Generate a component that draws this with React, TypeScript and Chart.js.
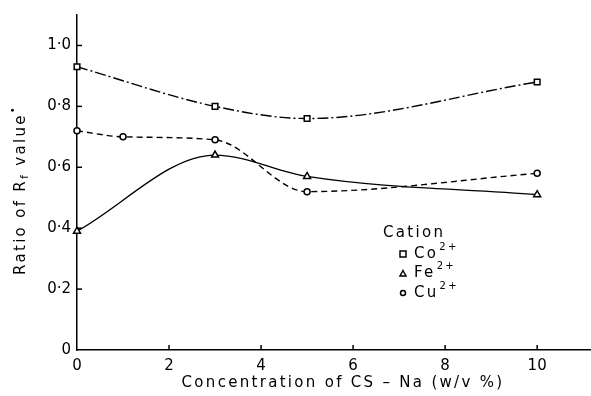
import React, { useEffect, useRef } from "react";
import { Chart, registerables } from "chart.js";

Chart.register(...registerables);

const coX = [0, 3, 5, 10];
const coY = [0.93, 0.8, 0.76, 0.88];
const feX = [0, 3, 5, 10];
const feY = [0.39, 0.64, 0.57, 0.51];
const cuX = [0, 1, 3, 5, 10];
const cuY = [0.72, 0.7, 0.69, 0.52, 0.58];

const xTicks = [0, 2, 4, 6, 8, 10];
const yTicks = [0, 0.2, 0.4, 0.6, 0.8, 1.0];

const xTitle = "Concentration of CS – Na (w/v %)";
const legendTitle = "Cation";
const legendItems = [
  { label: "Co", sup: "2+", shape: "rect" },
  { label: "Fe", sup: "2+", shape: "triangle" },
  { label: "Cu", sup: "2+", shape: "circle" },
];

const FONT = "'DejaVu Sans', sans-serif";

function pts(xs: number[], ys: number[]) {
  return xs.map((x, i) => ({ x, y: ys[i] }));
}

function drawMarker(ctx: CanvasRenderingContext2D, shape: string, x: number, y: number, r: number) {
  ctx.save();
  ctx.fillStyle = "#fff";
  ctx.strokeStyle = "#000";
  ctx.lineWidth = 1.5;
  ctx.beginPath();
  if (shape === "rect") {
    ctx.rect(x - r, y - r, 2 * r, 2 * r);
  } else if (shape === "triangle") {
    ctx.moveTo(x, y - r);
    ctx.lineTo(x + r, y + r * 0.8);
    ctx.lineTo(x - r, y + r * 0.8);
    ctx.closePath();
  } else {
    ctx.arc(x, y, r, 0, Math.PI * 2);
  }
  ctx.fill();
  ctx.stroke();
  ctx.restore();
}

const decorPlugin = {
  id: "decor",
  afterDraw(chart: any) {
    const ctx: CanvasRenderingContext2D = chart.ctx;
    const xs = chart.scales.x;
    const ys = chart.scales.y;
    const area = chart.chartArea;
    ctx.save();
    ctx.strokeStyle = "#000";
    ctx.lineWidth = 1.5;
    xTicks.forEach((t) => {
      if (t === 0) return;
      const px = xs.getPixelForValue(t);
      ctx.beginPath();
      ctx.moveTo(px, area.bottom);
      ctx.lineTo(px, area.bottom - 5);
      ctx.stroke();
    });
    yTicks.forEach((t) => {
      if (t === 0) return;
      const py = ys.getPixelForValue(t);
      ctx.beginPath();
      ctx.moveTo(area.left, py);
      ctx.lineTo(area.left + 5, py);
      ctx.stroke();
    });

    ctx.fillStyle = "#000";
    (ctx as any).letterSpacing = "2.3px";
    ctx.font = `15px ${FONT}`;
    ctx.textAlign = "center";
    ctx.textBaseline = "middle";
    ctx.fillText(xTitle, 343, 383);

    ctx.save();
    ctx.translate(21, 190);
    ctx.rotate(-Math.PI / 2);
    const parts = [
      { t: "Ratio of R", size: 15, dy: 0 },
      { t: "f", size: 11, dy: 4 },
      { t: " value", size: 15, dy: 0 },
      { t: "•", size: 10, dy: -8 },
    ];
    let total = 0;
    parts.forEach((p) => {
      ctx.font = `${p.size}px ${FONT}`;
      total += ctx.measureText(p.t).width;
    });
    let cx = -total / 2;
    ctx.textAlign = "left";
    parts.forEach((p) => {
      ctx.font = `${p.size}px ${FONT}`;
      ctx.fillText(p.t, cx, p.dy);
      cx += ctx.measureText(p.t).width;
    });
    ctx.restore();

    ctx.textAlign = "left";
    ctx.font = `15px ${FONT}`;
    ctx.fillText(legendTitle, 383, 233);
    legendItems.forEach((it, i) => {
      const y = 254 + i * 19.5;
      drawMarker(ctx, it.shape, 403, y, it.shape === "circle" ? 2.5 : 3);
      ctx.font = `15px ${FONT}`;
      ctx.fillText(it.label, 414, y);
      const w = ctx.measureText(it.label).width;
      ctx.font = `10px ${FONT}`;
      ctx.fillText(it.sup, 414 + w + 1, y - 7);
    });
    ctx.restore();
  },
};

export default function App() {
  const ref = useRef<HTMLCanvasElement>(null);
  useEffect(() => {
    if (!ref.current) return;
    const common = {
      borderColor: "#000",
      borderWidth: 1.4,
      pointBackgroundColor: "#fff",
      pointBorderColor: "#000",
      pointBorderWidth: 1.5,
      cubicInterpolationMode: "monotone" as const,
      fill: false,
      clip: false as any,
    };
    const chart = new Chart(ref.current, {
      type: "line",
      data: {
        datasets: [
          {
            ...common,
            label: "Co2+",
            data: pts(coX, coY),
            borderDash: [11, 3, 2, 3],
            pointStyle: "rect",
            pointRadius: 4,
          },
          {
            ...common,
            label: "Fe2+",
            data: pts(feX, feY),
            pointStyle: "triangle",
            pointRadius: 4,
          },
          {
            ...common,
            label: "Cu2+",
            data: pts(cuX, cuY),
            borderDash: [6, 4],
            pointStyle: "circle",
            pointRadius: 3,
          },
        ],
      },
      options: {
        animation: false,
        responsive: false,
        maintainAspectRatio: false,
        layout: { autoPadding: false, padding: { top: 10, right: 0, left: 0, bottom: 0 } },
        plugins: { legend: { display: false }, tooltip: { enabled: false } },
        scales: {
          x: {
            type: "linear",
            min: 0,
            max: 11.17,
            afterFit: (s: any) => {
              s.height = 46;
            },
            grid: { display: true, drawOnChartArea: false, drawTicks: false },
            border: { color: "#000", width: 1.5 },
            ticks: {
              stepSize: 2,
              includeBounds: false,
              padding: 7,
              color: "#000",
              font: { family: FONT, size: 15 },
              callback: (v: any) => String(v),
            },
          },
          y: {
            type: "linear",
            min: 0,
            max: 1.1,
            afterFit: (s: any) => {
              s.width = 77;
            },
            grid: { display: true, drawOnChartArea: false, drawTicks: false },
            border: { color: "#000", width: 1.5 },
            ticks: {
              stepSize: 0.2,
              includeBounds: false,
              padding: 6,
              color: "#000",
              font: { family: FONT, size: 15 },
              callback: (v: any) => (Math.abs(v) < 1e-9 ? "0" : Number(v).toFixed(1).replace(".", "·")),
            },
          },
        },
      },
      plugins: [decorPlugin],
    });
    return () => chart.destroy();
  }, []);
  return (
    <div style={{ position: "fixed", left: 0, top: 0, width: 591, height: 396, background: "#fff" }}>
      <canvas ref={ref} width={591} height={396} style={{ width: 591, height: 396 }} />
    </div>
  );
}
